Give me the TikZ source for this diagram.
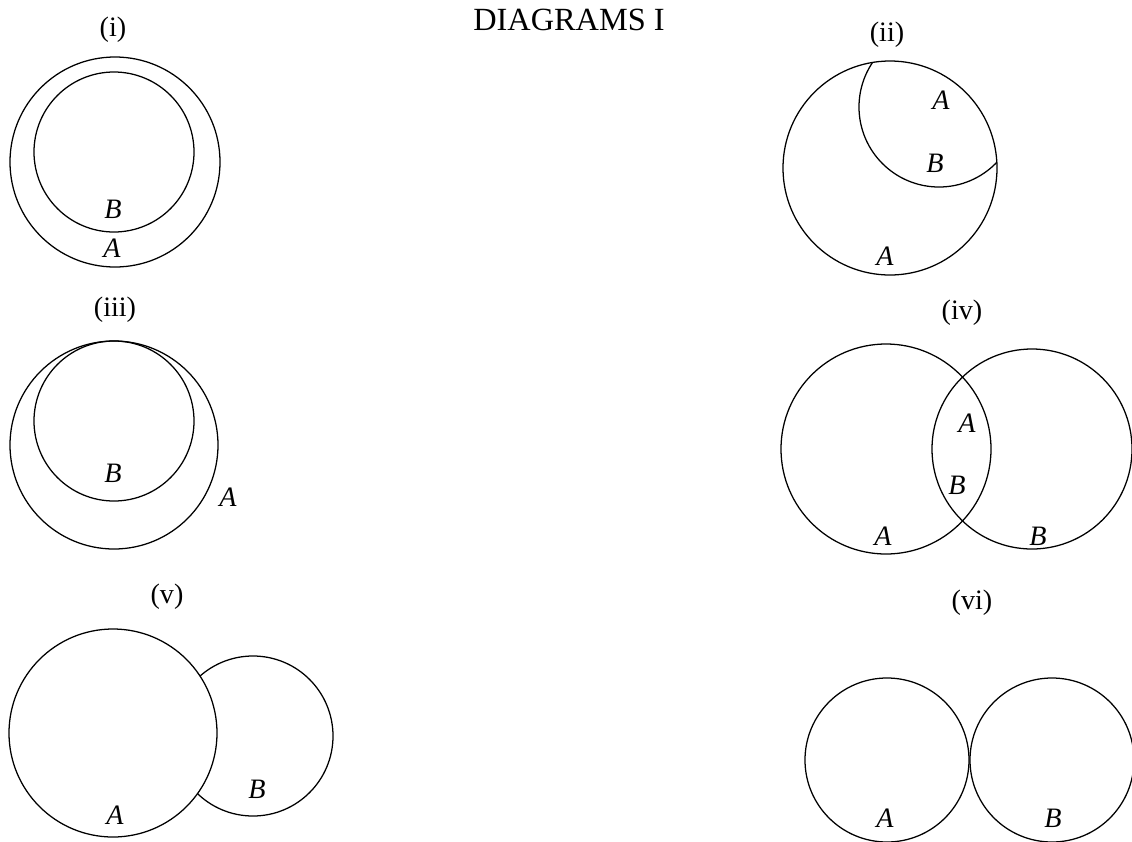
\documentclass[tikz,border=0pt]{standalone}
\usepackage{fontspec}
\setmainfont{Liberation Serif}
\tikzset{
  ring/.style={line width=0.9pt, black},
  lbl/.style={inner sep=0pt, font=\fontsize{20}{22}\selectfont},
  set/.style={lbl, font=\fontsize{20}{22}\selectfont\itshape}
}
\begin{document}
\begin{tikzpicture}[x=0.025cm, y=-0.025cm]
        \useasboundingbox (0,0) rectangle (1132,842);

        \node[lbl, font=\fontsize{23}{25}\selectfont] (title) at (569,20) {DIAGRAMS I};

        % (i) B inside A
        \node[lbl] (capi) at (113,30) {(i)};
        \draw[ring] (115,162) circle (105);
        \draw[ring] (114,152) circle (80);
        \node[set] (iB) at (113,209) {B};
        \node[set] (iA) at (112,248) {A};

        % (ii) B cut by A
        \node[lbl] (capii) at (887,35) {(ii)};
        \draw[ring] (890,168) circle (107);
        \begin{scope}
          \clip (890,168) circle (107);
          \draw[ring] (939,107) circle (80);
        \end{scope}
        \node[set] (iiA) at (941,100) {A};
        \node[set] (iiB) at (935,163) {B};
        \node[set] (iiAA) at (885,256) {A};

        % (iii) B touching A inside
        \node[lbl] (capiii) at (115,310) {(iii)};
        \draw[ring] (114,445) circle (104);
        \draw[ring] (114,421) circle (80);
        \node[set] (iiiB) at (113,473) {B};
        \node[set] (iiiA) at (228,497) {A};

        % (iv) A and B overlap
        \node[lbl] (capiv) at (962,313) {(iv)};
        \foreach \cx/\cy/\r in {886/449/105, 1032/449/100}
        \draw[ring] (\cx,\cy) circle (\r);
        \node[set] (ivA) at (967,423) {A};
        \node[set] (ivB) at (957,485) {B};
        \node[set] (ivAA) at (883,536) {A};
        \node[set] (ivBB) at (1038,536) {B};

        % (v) B outside A
        \node[lbl] (capv) at (167,597) {(v)};
        \draw[ring] (113,733) circle (104);
        \begin{scope}[even odd rule]
          \clip (0,560) rectangle (400,842) (113,733) circle (104);
          \draw[ring] (253,736) circle (80);
        \end{scope}
        \node[set] (vB) at (257,789) {B};
        \node[set] (vA) at (115,815) {A};

        % (vi) A and B touching
        \node[lbl] (capvi) at (972,603) {(vi)};
        \foreach \cx in {887,1052}
        \draw[ring] (\cx,760) circle (82);
        \node[set] (viA) at (885,818) {A};
        \node[set] (viB) at (1053,818) {B};

    \end{tikzpicture}
\end{document}
